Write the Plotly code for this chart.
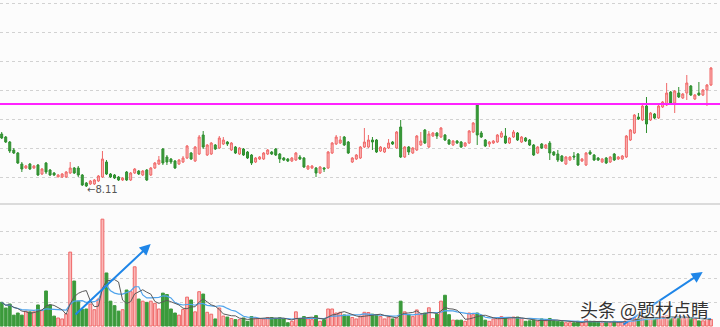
import plotly.graph_objects as go
import pandas as pd

# ---------------- data ----------------
open_ = [9.17, 9.11, 9.01, 8.85, 8.79, 8.57, 8.49, 8.57, 8.49, 8.55,
         8.37, 8.59, 8.45, 8.39, 8.31, 8.31, 8.31, 8.39, 8.49, 8.49,
         8.35, 8.19, 8.17, 8.17, 8.23, 8.31, 8.61, 8.37, 8.35, 8.31,
         8.25, 8.41, 8.25, 8.39, 8.43, 8.35, 8.45, 8.35, 8.49, 8.57,
         8.87, 8.71, 8.67, 8.63, 8.57, 8.61, 8.69, 8.79, 8.63, 8.77,
         9.15, 8.75, 8.77, 8.95, 8.89, 8.97, 9.01, 8.85, 8.91, 8.77,
         8.87, 8.81, 8.75, 8.61, 8.67, 8.67, 8.77, 8.81, 8.87, 8.77,
         8.69, 8.67, 8.63, 8.65, 8.71, 8.69, 8.47, 8.49, 8.49, 8.39,
         8.49, 8.49, 8.79, 8.97, 8.99, 9.11, 9.01, 8.61, 8.67, 8.69,
         8.91, 8.91, 9.05, 9.05, 8.83, 8.81, 8.89, 9.01, 8.89, 9.31,
         8.71, 8.91, 8.79, 8.85, 8.95, 9.25, 8.91, 9.13, 9.19, 9.11,
         9.15, 9.05, 8.95, 9.03, 9.01, 8.93, 8.99, 9.21, 9.75, 9.19,
         9.05, 8.97, 8.99, 9.01, 9.11, 9.13, 8.99, 9.11, 9.19, 9.01,
         9.09, 9.05, 8.95, 8.79, 8.97, 8.89, 8.99, 8.81, 8.77, 8.73,
         8.57, 8.65, 8.73, 8.77, 8.63, 8.55, 8.81, 8.75, 8.69, 8.61,
         8.69, 8.61, 8.77, 8.67, 8.67, 8.71, 9.05, 9.19, 9.51, 9.45,
         9.73, 9.45, 9.57, 9.49, 9.71, 9.75, 10.01, 9.79, 9.99, 9.89,
         9.99, 10.13, 9.87, 9.99, 9.95, 10.05, 10.15]
high = [9.21, 9.13, 9.03, 8.89, 8.81, 8.61, 8.55, 8.59, 8.55, 8.57,
        8.49, 8.61, 8.47, 8.41, 8.37, 8.39, 8.43, 8.61, 8.51, 8.53,
        8.37, 8.21, 8.25, 8.27, 8.35, 8.83, 8.65, 8.39, 8.37, 8.33,
        8.31, 8.43, 8.41, 8.49, 8.45, 8.45, 8.47, 8.51, 8.61, 8.73,
        8.89, 8.75, 8.69, 8.65, 8.67, 8.73, 8.95, 8.81, 8.93, 9.15,
        9.23, 8.97, 9.01, 8.97, 9.13, 9.11, 9.03, 9.01, 8.93, 8.91,
        8.89, 8.83, 8.77, 8.71, 8.73, 8.81, 8.87, 8.83, 8.89, 8.79,
        8.71, 8.69, 8.71, 8.81, 8.75, 8.71, 8.55, 8.55, 8.51, 8.53,
        8.51, 8.83, 9.01, 9.15, 9.13, 9.13, 9.03, 8.71, 8.77, 8.93,
        9.29, 9.15, 9.11, 9.07, 8.93, 8.91, 9.07, 9.03, 9.23, 9.45,
        8.93, 8.93, 8.91, 9.15, 9.21, 9.27, 9.23, 9.21, 9.21, 9.31,
        9.17, 9.07, 9.05, 9.05, 9.03, 9.01, 9.25, 9.41, 9.77, 9.23,
        9.07, 9.03, 9.05, 9.17, 9.23, 9.29, 9.11, 9.25, 9.21, 9.13,
        9.11, 9.07, 8.97, 8.93, 8.99, 8.97, 9.03, 8.83, 8.85, 8.75,
        8.73, 8.73, 8.81, 8.79, 8.69, 8.81, 8.85, 8.77, 8.71, 8.69,
        8.71, 8.73, 8.79, 8.73, 8.75, 9.15, 9.27, 9.57, 9.59, 9.75,
        9.91, 9.61, 9.59, 9.75, 9.83, 10.19, 10.03, 10.05, 10.11, 9.99,
        10.35, 10.15, 9.97, 10.21, 10.07, 10.17, 10.51]
low = [9.07, 8.99, 8.79, 8.77, 8.57, 8.41, 8.47, 8.45, 8.47, 8.33,
       8.35, 8.37, 8.33, 8.33, 8.31, 8.29, 8.29, 8.37, 8.37, 8.31,
       8.13, 8.11, 8.15, 8.15, 8.21, 8.29, 8.35, 8.29, 8.27, 8.23,
       8.23, 8.23, 8.23, 8.37, 8.35, 8.33, 8.23, 8.33, 8.47, 8.55,
       8.55, 8.55, 8.57, 8.47, 8.55, 8.59, 8.67, 8.65, 8.61, 8.75,
       8.87, 8.73, 8.75, 8.85, 8.87, 8.95, 8.93, 8.83, 8.77, 8.75,
       8.73, 8.67, 8.55, 8.59, 8.65, 8.65, 8.75, 8.75, 8.73, 8.59,
       8.63, 8.61, 8.61, 8.63, 8.65, 8.49, 8.45, 8.47, 8.31, 8.37,
       8.41, 8.47, 8.77, 8.95, 8.97, 8.93, 8.77, 8.59, 8.65, 8.67,
       8.89, 8.89, 8.85, 8.79, 8.81, 8.79, 8.87, 8.95, 8.87, 8.69,
       8.69, 8.75, 8.77, 8.83, 8.93, 8.97, 8.89, 9.11, 9.07, 9.09,
       9.03, 8.95, 8.93, 8.97, 8.89, 8.91, 8.97, 9.19, 8.95, 9.09,
       8.91, 8.91, 8.97, 8.99, 9.09, 8.97, 8.97, 9.09, 9.03, 8.99,
       9.01, 8.93, 8.73, 8.77, 8.87, 8.87, 8.65, 8.73, 8.61, 8.61,
       8.55, 8.63, 8.65, 8.53, 8.61, 8.53, 8.75, 8.63, 8.63, 8.59,
       8.57, 8.59, 8.63, 8.65, 8.65, 8.69, 9.03, 9.17, 9.45, 9.43,
       9.19, 9.43, 9.47, 9.47, 9.69, 9.73, 9.77, 9.59, 9.89, 9.87,
       9.85, 9.93, 9.85, 9.93, 9.93, 9.73, 10.13]
close = [9.09, 9.01, 8.83, 8.79, 8.59, 8.47, 8.53, 8.47, 8.53, 8.35,
         8.47, 8.41, 8.35, 8.35, 8.35, 8.37, 8.41, 8.49, 8.39, 8.35,
         8.15, 8.13, 8.23, 8.25, 8.33, 8.67, 8.37, 8.31, 8.29, 8.25,
         8.29, 8.25, 8.39, 8.47, 8.37, 8.43, 8.25, 8.49, 8.59, 8.65,
         8.59, 8.61, 8.61, 8.49, 8.65, 8.69, 8.93, 8.67, 8.91, 9.11,
         8.91, 8.95, 8.99, 8.87, 9.09, 9.05, 8.97, 8.99, 8.79, 8.89,
         8.75, 8.69, 8.59, 8.69, 8.71, 8.79, 8.85, 8.77, 8.75, 8.67,
         8.65, 8.63, 8.69, 8.79, 8.67, 8.51, 8.53, 8.53, 8.39, 8.51,
         8.47, 8.81, 8.99, 9.11, 9.05, 8.95, 8.79, 8.69, 8.75, 8.91,
         9.01, 9.05, 9.01, 8.81, 8.91, 8.89, 8.99, 8.97, 9.21, 8.71,
         8.91, 8.81, 8.89, 9.13, 9.03, 8.99, 9.17, 9.19, 9.13, 9.29,
         9.05, 8.97, 9.03, 8.99, 8.91, 8.99, 9.23, 9.39, 9.15, 9.11,
         8.93, 9.01, 9.03, 9.15, 9.19, 8.99, 9.09, 9.21, 9.05, 9.11,
         9.03, 8.95, 8.75, 8.91, 8.89, 8.95, 8.79, 8.75, 8.65, 8.63,
         8.71, 8.71, 8.71, 8.55, 8.67, 8.79, 8.77, 8.65, 8.65, 8.67,
         8.59, 8.71, 8.65, 8.71, 8.73, 9.13, 9.25, 9.55, 9.47, 9.73,
         9.37, 9.59, 9.49, 9.73, 9.81, 9.99, 9.79, 10.03, 9.91, 9.97,
         10.19, 9.95, 9.95, 9.95, 10.05, 10.15, 10.49]
volume = [1.0, 0.76, 0.93, 0.46, 0.55, 0.46, 0.63, 0.6, 0.6, 0.89,
          0.67, 1.48, 0.89, 0.42, 0.34, 0.3, 0.52, 3.12, 1.9, 1.05,
          0.7, 0.72, 0.93, 0.69, 1.14, 4.51, 2.24, 1.05, 0.86, 0.63,
          0.69, 1.52, 1.45, 2.5, 1.14, 1.05, 1.0, 1.05, 0.96, 0.72,
          1.39, 1.33, 0.72, 0.55, 0.46, 0.7, 1.22, 1.1, 0.6, 1.45,
          1.35, 0.58, 0.5, 0.3, 0.76, 0.42, 0.38, 0.32, 0.27, 0.27,
          0.34, 0.2, 0.4, 0.35, 0.32, 0.3, 0.36, 0.36, 0.3, 0.35,
          0.3, 0.14, 0.2, 0.6, 0.3, 0.4, 0.3, 0.27, 0.44, 0.2,
          0.27, 0.72, 0.72, 0.55, 0.58, 0.47, 0.42, 0.36, 0.3, 0.42,
          0.58, 0.57, 0.5, 0.45, 0.4, 0.3, 0.38, 0.3, 0.35, 1.05,
          0.6, 0.47, 0.4, 0.68, 0.48, 0.55, 0.77, 0.32, 0.5, 1.05,
          1.3, 0.48, 0.25, 0.25, 0.25, 0.2, 0.55, 0.48, 0.55, 0.45,
          0.25, 0.2, 0.3, 0.35, 0.4, 0.35, 0.3, 0.38, 0.38, 0.32,
          0.2, 0.22, 0.25, 0.2, 0.3, 0.22, 0.32, 0.22, 0.2, 0.18,
          0.14, 0.14, 0.14, 0.2, 0.14, 0.27, 0.2, 0.2, 0.18, 0.14,
          0.18, 0.14, 0.2, 0.14, 0.17, 0.3, 0.33, 0.35, 0.3, 0.4,
          0.45, 0.3, 0.33, 0.35, 0.4, 0.45, 0.4, 0.4, 0.33, 0.35,
          0.38, 0.35, 0.3, 0.22, 0.22, 0.3, 0.28]
resistance = 9.77
low_label = "←8.11"
low_index = 21
price_grid = [8.31, 8.89, 9.47, 10.05, 10.63, 11.21, 11.79]
vol_grid = [1, 2, 3, 4]
watermark = "头条 @题材点睛"

# ---------------- styling ----------------
UP_LINE, UP_FILL = "#f06868", "#fab8b8"
DN_LINE, DN_FILL = "#2f8f2f", "#3b9a3b"
W, H = 720, 327
split = 123 / H
idx = list(range(len(close)))

fig = go.Figure()
fig.add_trace(go.Candlestick(
    x=idx, open=open_, high=high, low=low, close=close,
    increasing=dict(line=dict(color=UP_LINE, width=1), fillcolor=UP_FILL),
    decreasing=dict(line=dict(color=DN_LINE, width=1), fillcolor=DN_FILL),
    whiskerwidth=0, showlegend=False, hoverinfo="skip",
    xaxis="x", yaxis="y"))

up = [c >= o for o, c in zip(open_, close)]
fig.add_trace(go.Bar(
    x=idx, y=volume, width=0.7,
    marker=dict(color=[UP_FILL if u else DN_FILL for u in up],
                line=dict(color=[UP_LINE if u else DN_FILL for u in up], width=1)),
    showlegend=False, hoverinfo="skip", xaxis="x2", yaxis="y2"))

vs = pd.Series(volume)
ma5 = vs.rolling(5, min_periods=1).mean()
ma10 = vs.rolling(10, min_periods=1).mean()
fig.add_trace(go.Scatter(x=idx, y=ma10, mode="lines", line=dict(color="#4ea3ec", width=1.2),
                         showlegend=False, hoverinfo="skip", xaxis="x2", yaxis="y2"))
fig.add_trace(go.Scatter(x=idx, y=ma5, mode="lines", line=dict(color="#5a5a5a", width=1),
                         showlegend=False, hoverinfo="skip", xaxis="x2", yaxis="y2"))

xr = [-0.42, 178.24]
axis_common = dict(showticklabels=False, zeroline=False, showline=False, ticks="")
fig.update_layout(
    width=W, height=H, margin=dict(l=0, r=0, t=0, b=0),
    paper_bgcolor="#fcfcfc", plot_bgcolor="#fcfcfc",
    xaxis=dict(domain=[0, 1], range=xr, showgrid=False, rangeslider=dict(visible=False),
               anchor="y", **axis_common),
    yaxis=dict(domain=[1 - 204 / H, 1], range=[7.77, 11.85], tickvals=price_grid,
               showgrid=True, gridcolor="#d2d2d2", griddash="dot", gridwidth=1, **axis_common),
    xaxis2=dict(domain=[0, 1], range=xr, showgrid=False, anchor="y2", matches="x", **axis_common),
    yaxis2=dict(domain=[0, split], range=[-0.04, 5.15], tickvals=vol_grid,
                showgrid=True, gridcolor="#d2d2d2", griddash="dot", gridwidth=1, **axis_common),
    bargap=0.3,
    shapes=[
        dict(type="line", xref="paper", yref="y", x0=0, x1=1, y0=resistance, y1=resistance,
             line=dict(color="#ff22ff", width=2)),
        dict(type="line", xref="paper", yref="paper", x0=0, x1=1, y0=split, y1=split,
             line=dict(color="#d0d0d0", width=1.5)),
    ],
)

fig.add_annotation(x=low_index, y=low[low_index], xref="x", yref="y", text=low_label,
                   showarrow=False, xanchor="left", yanchor="middle", yshift=-2, xshift=-1,
                   font=dict(family="DejaVu Sans", size=10, color="#555"))

for (hx, hy, tx, ty) in [(150.7, 244, 74, 316), (702.7, 272, 622, 325.5)]:
    fig.add_annotation(x=hx / W, y=1 - hy / H, xref="paper", yref="paper",
                       ax=tx - hx, ay=ty - hy, axref="pixel", ayref="pixel",
                       text="", showarrow=True, arrowhead=2, arrowsize=1.1,
                       arrowwidth=2, arrowcolor="#1f86e8")

fig.add_annotation(x=644 / W, y=1 - 309 / H, xref="paper", yref="paper", text=watermark,
                   showarrow=False, xanchor="center", yanchor="middle",
                   font=dict(family="Noto Sans CJK SC", size=18, color="#333333",
                             shadow="1px 1px 2px white, -1px -1px 2px white"))

fig.write_html("out.html")
